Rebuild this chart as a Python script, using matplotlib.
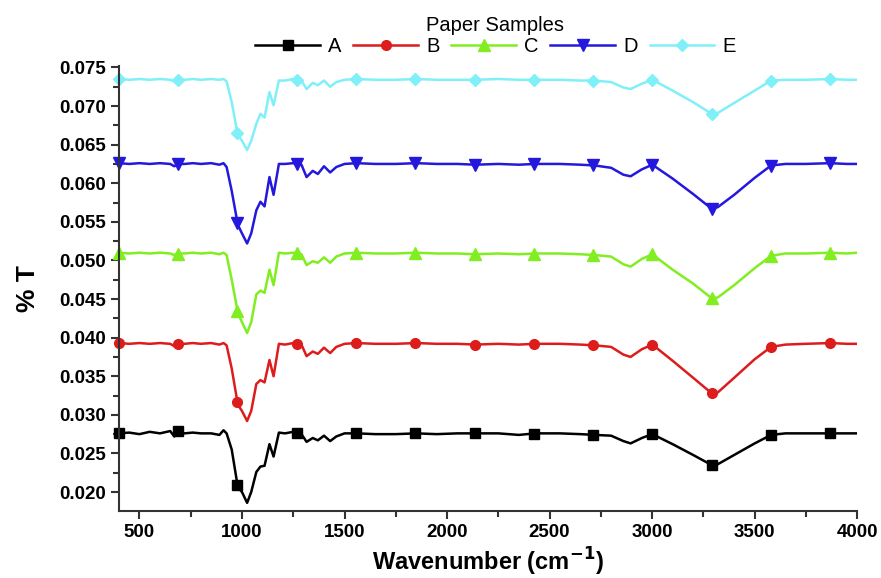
import numpy as np
import matplotlib
matplotlib.use("Agg")
import matplotlib.pyplot as plt
from matplotlib.lines import Line2D
from matplotlib.ticker import MultipleLocator

plt.rcParams['font.family'] = ['Liberation Sans', 'DejaVu Sans']

# wavenumber grid (cm-1)
wavenumber = [400, 450, 500, 550, 600, 650, 670, 690, 720, 760,
              800, 850, 890, 910, 925, 950, 980, 1000, 1025, 1045,
              1070, 1090, 1110, 1134, 1154, 1180, 1210, 1250, 1290, 1315,
              1345, 1370, 1400, 1430, 1460, 1500, 1560, 1650, 1750, 1850,
              1950, 2050, 2140, 2250, 2350, 2430, 2550, 2650, 2720, 2800,
              2860, 2895, 2950, 3001, 3100, 3200, 3290, 3320, 3400, 3500,
              3580, 3650, 3750, 3868, 3950, 4000]

sample_a = [.0276, .0277, .0275, .0278, .0276, .0279, .0272, .0279, .0276, .0277,
            .0276, .0276, .0274, .0280, .0276, .0255, .0206, .0200, .0186, .0200,
            .0226, .0233, .0234, .0262, .0246, .0277, .0276, .0278, .0275, .0265,
            .0270, .0267, .0273, .0266, .0272, .0276, .0276, .0275, .0275, .0276,
            .0275, .0276, .0276, .0276, .0274, .0276, .0276, .0275, .0274, .0273,
            .0266, .0263, .0270, .0275, .0262, .0248, .0235, .0236, .0248, .0263,
            .0274, .0276, .0276, .0276, .0276, .0276]

sample_b = [.0393, .0392, .0393, .0392, .0393, .0392, .0389, .0392, .0392, .0393,
            .0392, .0393, .0391, .0393, .0390, .0360, .0313, .0305, .0292, .0305,
            .0340, .0345, .0342, .0371, .0350, .0392, .0391, .0393, .0391, .0376,
            .0382, .0379, .0387, .0380, .0388, .0392, .0393, .0392, .0392, .0393,
            .0392, .0392, .0391, .0392, .0391, .0392, .0392, .0391, .0390, .0388,
            .0378, .0375, .0385, .0391, .0370, .0348, .0328, .0329, .0348, .0372,
            .0388, .0391, .0392, .0393, .0392, .0392]

sample_c = [.0510, .0509, .0510, .0509, .0510, .0509, .0507, .0509, .0509, .0510,
            .0509, .0510, .0508, .0510, .0507, .0475, .0432, .0420, .0406, .0420,
            .0456, .0461, .0458, .0488, .0468, .0510, .0509, .0510, .0508, .0494,
            .0499, .0497, .0504, .0497, .0505, .0509, .0510, .0509, .0509, .0510,
            .0509, .0509, .0508, .0509, .0508, .0509, .0509, .0508, .0507, .0505,
            .0495, .0492, .0502, .0508, .0488, .0470, .0451, .0452, .0468, .0490,
            .0506, .0509, .0509, .0510, .0509, .0510]

sample_d = [.0626, .0625, .0626, .0625, .0626, .0625, .0622, .0625, .0625, .0626,
            .0625, .0626, .0624, .0626, .0621, .0590, .0546, .0535, .0522, .0535,
            .0565, .0576, .0570, .0608, .0585, .0625, .0625, .0626, .0624, .0608,
            .0616, .0612, .0622, .0614, .0621, .0625, .0626, .0625, .0625, .0626,
            .0625, .0625, .0624, .0625, .0624, .0625, .0625, .0624, .0623, .0620,
            .0611, .0609, .0618, .0624, .0606, .0586, .0567, .0569, .0585, .0607,
            .0623, .0625, .0625, .0626, .0625, .0625]

sample_e = [.0735, .0734, .0735, .0734, .0735, .0734, .0732, .0734, .0734, .0735,
            .0734, .0735, .0734, .0735, .0732, .0705, .0662, .0655, .0643, .0655,
            .0677, .0690, .0685, .0718, .0701, .0733, .0733, .0735, .0733, .0722,
            .0730, .0727, .0733, .0725, .0731, .0734, .0735, .0734, .0734, .0735,
            .0734, .0734, .0734, .0735, .0734, .0734, .0734, .0733, .0733, .0731,
            .0724, .0722, .0729, .0734, .0720, .0705, .0690, .0691, .0704, .0720,
            .0733, .0734, .0734, .0735, .0734, .0734]

labels = ["A", "B", "C", "D", "E"]
marker_wn = [400, 689, 978, 1267, 1556, 1845, 2134, 2423, 2712, 3001, 3290, 3579, 3868]

series = [sample_a, sample_b, sample_c, sample_d, sample_e]
colors = ["black", "#dd1c1c", "#80ee20", "#2418dd", "#80f0f8"]
markers = ["s", "o", "^", "v", "D"]
msizes = [7, 7, 8, 8, 6.5]

fig = plt.figure(figsize=(8.81, 5.78), dpi=100)
ax = fig.add_axes([0.135, 0.116, 0.838, 0.770])

handles = []
for y, c, m, ms, lab in zip(series, colors, markers, msizes, labels):
    ax.plot(wavenumber, y, color=c, lw=1.8)
    my = np.interp(marker_wn, wavenumber, y)
    ax.plot(marker_wn, my, ls="none", marker=m, ms=ms, color=c, clip_on=False)
    handles.append(Line2D([], [], color=c, lw=1.8, marker=m, ms=ms))

ax.set_xlim(400, 4000)
ax.set_ylim(0.01755, 0.0752)
ax.xaxis.set_major_locator(MultipleLocator(500))
ax.xaxis.set_minor_locator(MultipleLocator(250))
ax.yaxis.set_major_locator(MultipleLocator(0.005))
ax.yaxis.set_minor_locator(MultipleLocator(0.0025))
ax.yaxis.set_major_formatter(plt.FormatStrFormatter("%.3f"))

ax.spines["top"].set_visible(False)
ax.spines["right"].set_visible(False)
for s in ["left", "bottom"]:
    ax.spines[s].set_linewidth(1.5)
    ax.spines[s].set_color("#333333")
ax.tick_params(which="major", direction="out", length=6, width=1.5, color="#333333", labelsize=13.5)
ax.tick_params(which="minor", direction="out", length=4, width=1.5, color="#333333")
for t in ax.get_xticklabels() + ax.get_yticklabels():
    t.set_fontweight("bold")

ax.set_xlabel("Wavenumber (cm$^{\\mathbf{-1}}$)", fontsize=17, fontweight="bold", labelpad=3)
ax.set_ylabel("% T", fontsize=19, fontweight="bold", labelpad=14)

leg = ax.legend(handles, labels, ncol=5, frameon=False, title="Paper Samples",
                loc="lower center", bbox_to_anchor=(0.51, 1.0), fontsize=14.5,
                title_fontsize=14.5, handlelength=3.2, columnspacing=0.6,
                handletextpad=0.4, borderaxespad=0.1)
leg._legend_box.sep = 1

fig.savefig("out.png", dpi=100)
